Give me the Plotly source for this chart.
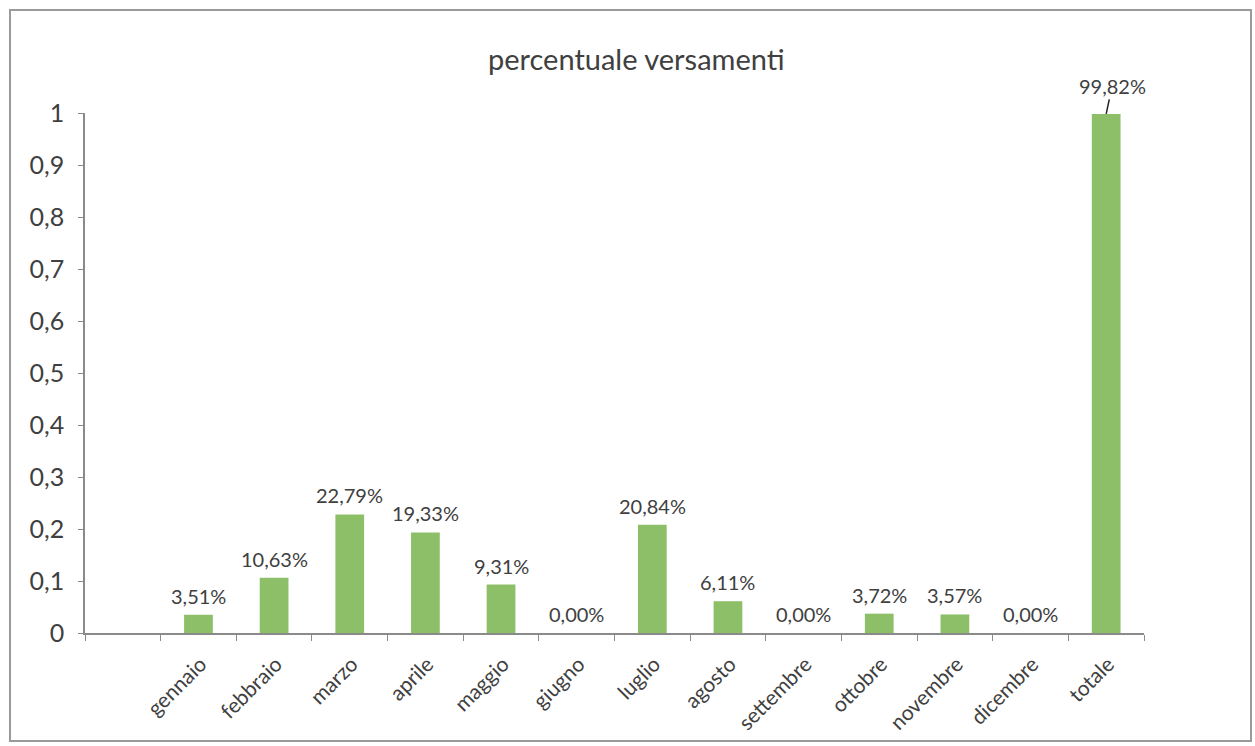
import plotly.graph_objects as go

categories = ["gennaio", "febbraio", "marzo", "aprile", "maggio", "giugno", "luglio",
              "agosto", "settembre", "ottobre", "novembre", "dicembre", "totale"]
values = [0.0351, 0.1063, 0.2279, 0.1933, 0.0931, 0.0, 0.2084,
          0.0611, 0.0, 0.0372, 0.0357, 0.0, 0.9982]
ytick_vals = [0, 0.1, 0.2, 0.3, 0.4, 0.5, 0.6, 0.7, 0.8, 0.9, 1]
ytick_text = ["0", "0,1", "0,2", "0,3", "0,4", "0,5", "0,6", "0,7", "0,8", "0,9", "1"]
title = "percentuale versamenti"

FONT = "Lato, Calibri, Carlito, sans-serif"
TXT = "#404040"
AX = "#8a8a8a"
BAR = "#8dbf68"

labels = [f"{v*100:.2f}%".replace(".", ",") for v in values]

fig = go.Figure()
fig.add_trace(go.Bar(x=categories, y=values, width=0.38,
                     marker=dict(color=BAR, line=dict(width=0)),
                     hoverinfo="skip", showlegend=False))

annotations = []
for c, v, t in zip(categories, values, labels):
    if c == "totale":
        annotations.append(dict(x=c, y=v, xref="x", yref="y", text=t, showarrow=True,
                                arrowhead=0, arrowwidth=1.5, arrowcolor="#222222",
                                ax=6, ay=-28, standoff=0,
                                font=dict(family=FONT, size=20, color=TXT)))
    else:
        annotations.append(dict(x=c, y=v, xref="x", yref="y", text=t, showarrow=False,
                                yanchor="bottom", yshift=5,
                                font=dict(family=FONT, size=20, color=TXT)))

fig.update_layout(
    width=1255, height=746,
    margin=dict(l=85, r=111, t=113, b=113),
    paper_bgcolor="white", plot_bgcolor="white",
    font=dict(family=FONT, color=TXT),
    title=dict(text=title, x=0.507, xref="container", xanchor="center",
               y=1 - 60 / 746, yref="container", yanchor="middle",
               font=dict(family=FONT, size=29, color=TXT)),
    annotations=annotations,
    xaxis=dict(type="category", categoryorder="array",
               categoryarray=[" "] + categories, range=[-0.5, 13.5],
               tickson="boundaries", ticks="outside", ticklen=6, tickcolor=AX,
               showline=True, linecolor=AX, linewidth=1.5, showgrid=False,
               tickangle=-45, tickfont=dict(family=FONT, size=21, color=TXT),
               ticklabelshift=2, ticklabelstandoff=9, fixedrange=True),
    yaxis=dict(range=[0, 1], tickvals=ytick_vals, ticktext=ytick_text,
               ticks="outside", ticklen=5, tickcolor=AX,
               showline=True, linecolor=AX, linewidth=1.5, showgrid=False,
               zeroline=False, tickfont=dict(family=FONT, size=25, color=TXT),
               ticklabelstandoff=9, fixedrange=True),
    shapes=[dict(type="rect", xref="paper", yref="paper",
                 x0=(10 - 85) / 1059, x1=(1251 - 85) / 1059,
                 y0=(633 - 741) / 520, y1=(633 - 10) / 520,
                 line=dict(color="#9a9a9a", width=2), fillcolor="rgba(0,0,0,0)")],
)

fig.write_html("out.html")
